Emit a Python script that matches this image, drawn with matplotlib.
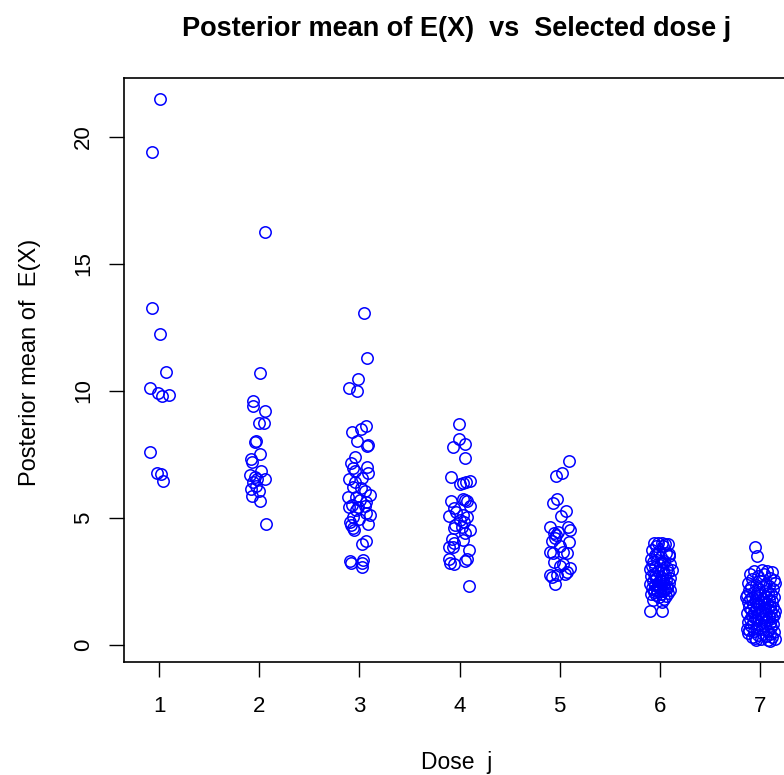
import numpy as np
import matplotlib
matplotlib.use('Agg')
import matplotlib.pyplot as plt

plt.rcParams['font.family'] = ['Liberation Sans', 'DejaVu Sans']

# 每个剂量: 横向抖动量 与 E(X) 后验均值
dose1_dx = [0.01, -0.07, -0.07, 0.01, 0.07, -0.09, -0.01, 0.03, 0.10, -0.09, -0.02, 0.02, 0.04]
dose1_y = [21.5, 19.4, 13.28, 12.26, 10.76, 10.11, 9.91, 9.79, 9.85, 7.60, 6.76, 6.73, 6.44]

dose2_dx = [0.06, 0.01, -0.06, -0.06, 0.06, 0.0, 0.05, -0.04, -0.03, 0.01, -0.08, -0.07,
            0.02, -0.09, -0.04, -0.02, 0.06, -0.06, -0.03, -0.08, 0.0, -0.07, 0.01, 0.07]
dose2_y = [16.26, 10.71, 9.62, 9.41, 9.21, 8.75, 8.75, 8.0, 8.04, 7.51, 7.31, 7.22,
           6.85, 6.69, 6.60, 6.52, 6.52, 6.43, 6.26, 6.14, 6.06, 5.87, 5.68, 4.75]

dose3_dx = [0.05, 0.08, -0.01, -0.10, -0.02, -0.07, 0.02, 0.07, -0.02, 0.08, 0.09, -0.04,
            -0.08, -0.06, -0.04, 0.08, 0.09, -0.10, 0.03, -0.04, -0.06, 0.02, 0.06, 0.11,
            -0.11, -0.03, 0.01, 0.07, -0.07, -0.10, -0.01, 0.06, -0.03, 0.07, 0.11, -0.06,
            -0.09, 0.0, 0.09, -0.08, -0.06, -0.05, 0.03, 0.07, -0.09, -0.08, 0.03, 0.04, 0.03]
dose3_y = [13.08, 11.30, 10.48, 10.11, 10.01, 8.37, 8.49, 8.62, 8.04, 7.83, 7.86, 7.39,
           7.15, 6.96, 6.86, 7.0, 6.76, 6.54, 6.56, 6.43, 6.21, 6.17, 6.07, 5.9,
           5.81, 5.84, 5.71, 5.64, 5.51, 5.42, 5.44, 5.47, 5.31, 5.18, 5.12, 5.03,
           4.85, 4.95, 4.76, 4.72, 4.59, 4.53, 3.98, 4.11, 3.30, 3.24, 3.22, 3.35, 3.08]

dose4_dx = [-0.01, -0.01, 0.05, -0.06, 0.05, -0.08, 0.0, 0.03, 0.06, 0.10, -0.08, 0.03,
            0.05, 0.07, 0.10, -0.05, -0.03, -0.10, 0.03, 0.07, 0.0, 0.04, -0.04, 0.02,
            0.10, -0.05, 0.05, 0.03, -0.07, -0.05, -0.10, -0.06, 0.09, -0.10, -0.09, -0.05,
            0.05, 0.07, 0.09]
dose4_y = [8.69, 8.10, 7.93, 7.78, 7.38, 6.60, 6.33, 6.37, 6.43, 6.47, 5.66, 5.74,
           5.71, 5.67, 5.47, 5.38, 5.25, 5.09, 5.12, 5.05, 4.92, 4.85, 4.72, 4.66,
           4.53, 4.59, 4.40, 4.13, 4.16, 4.03, 3.87, 3.87, 3.74, 3.37, 3.24, 3.19,
           3.31, 3.37, 2.32]

dose5_dx = [0.09, -0.04, 0.02, -0.03, -0.07, 0.06, 0.01, -0.10, 0.08, 0.10, -0.06, -0.04,
            -0.02, -0.05, -0.08, 0.09, 0.0, -0.10, -0.07, 0.03, 0.07, -0.06, 0.0, 0.03,
            0.10, -0.10, -0.08, -0.03, 0.05, 0.07, -0.05]
dose5_y = [7.24, 6.65, 6.76, 5.75, 5.60, 5.29, 5.08, 4.63, 4.63, 4.53, 4.40, 4.33,
           4.46, 4.20, 4.11, 4.07, 3.90, 3.67, 3.61, 3.67, 3.61, 3.28, 3.11, 3.19,
           3.02, 2.76, 2.69, 2.76, 2.80, 2.89, 2.40]

dose6_dx = [-0.06, -0.02, 0.02, 0.05, 0.08, -0.04, 0.03, -0.08, -0.01, 0.06, -0.05, 0.09,
            0.01, -0.09, -0.03, 0.04, -0.07, 0.10, 0.0, -0.05, 0.07, -0.10, 0.03, -0.02,
            0.08, -0.06, 0.05, -0.09, 0.01, 0.10, -0.04, 0.06, -0.07, 0.02, -0.01, 0.09,
            -0.10, 0.04, -0.05, 0.07, -0.02, 0.0, -0.08, 0.05, 0.10, -0.03, 0.03, -0.06,
            0.08, -0.09, 0.01, -0.04, 0.06, -0.01, 0.04, -0.07, 0.02, -0.10, 0.02, 0.09,
            -0.03, 0.02, -0.08, 0.12, -0.05, 0.03, -0.02, 0.07, -0.06, 0.0]
dose6_y = [4.02, 4.00, 4.01, 3.98, 3.99, 3.90, 3.88, 3.72, 3.70, 3.62, 3.55, 3.50,
           3.45, 3.40, 3.36, 3.32, 3.25, 3.20, 3.15, 3.08, 3.02, 2.98, 2.95, 2.90,
           2.86, 2.80, 2.76, 2.70, 2.68, 2.64, 2.60, 2.57, 2.52, 2.50, 2.46, 2.44,
           2.42, 2.40, 2.36, 2.33, 2.30, 2.27, 2.24, 2.22, 2.18, 2.15, 2.12, 2.08,
           2.05, 2.02, 2.00, 1.95, 1.92, 1.88, 1.82, 1.78, 1.70, 1.35, 1.34, 3.58,
           3.60, 3.28, 3.12, 2.94, 2.72, 2.58, 2.38, 2.26, 2.16, 2.55]

dose7_dx = [-0.05, -0.03, -0.06, 0.02, 0.07, 0.12, -0.10, 0.04, -0.02, 0.10, -0.08, 0.14,
            0.01, -0.12, 0.06, -0.04, 0.09, -0.09, 0.03, -0.01, 0.13, -0.11, 0.05, -0.06,
            0.08, -0.03, 0.11, -0.13, 0.0, 0.06, -0.08, 0.14, -0.02, 0.03, -0.10, 0.09,
            -0.05, 0.12, 0.01, -0.12, 0.07, -0.03, 0.04, -0.07, 0.10, -0.01, 0.13, -0.11,
            0.05, -0.04, 0.08, -0.09, 0.02, 0.11, -0.06, 0.0, -0.13, 0.06, -0.02, 0.14,
            -0.08, 0.03, 0.09, -0.05, 0.12, -0.10, 0.01, -0.03, 0.07, -0.12, 0.04, 0.10,
            -0.07, 0.13, -0.01, -0.09, 0.05, 0.11, -0.04, 0.02, -0.11, 0.08, -0.06, 0.14,
            -0.12, 0.03, 0.10, -0.02, 0.06, -0.08, 0.12, -0.05, 0.01, 0.08, -0.04, 0.10,
            0.15, -0.13, 0.15, -0.14, 0.15]
dose7_y = [3.84, 3.52, 2.92, 2.95, 2.93, 2.88, 2.80, 2.78, 2.72, 2.62, 2.58, 2.55,
           2.50, 2.45, 2.42, 2.38, 2.33, 2.30, 2.27, 2.22, 2.20, 2.16, 2.12, 2.10,
           2.06, 2.03, 2.00, 1.98, 1.95, 1.92, 1.90, 1.87, 1.85, 1.82, 1.80, 1.78,
           1.75, 1.72, 1.70, 1.68, 1.65, 1.62, 1.60, 1.58, 1.55, 1.52, 1.50, 1.48,
           1.46, 1.43, 1.40, 1.38, 1.35, 1.32, 1.30, 1.28, 1.25, 1.22, 1.20, 1.18,
           1.15, 1.12, 1.10, 1.08, 1.05, 1.02, 1.00, 0.97, 0.95, 0.92, 0.90, 0.87,
           0.85, 0.82, 0.80, 0.76, 0.74, 0.70, 0.68, 0.64, 0.60, 0.57, 0.54, 0.50,
           0.47, 0.45, 0.42, 0.38, 0.36, 0.33, 0.30, 0.27, 0.24, 0.20, 0.18, 0.17,
           0.25, 0.62, 1.35, 1.90, 2.45]

doses = [1, 2, 3, 4, 5, 6, 7]
all_dx = [dose1_dx, dose2_dx, dose3_dx, dose4_dx, dose5_dx, dose6_dx, dose7_dx]
all_y = [dose1_y, dose2_y, dose3_y, dose4_y, dose5_y, dose6_y, dose7_y]

fig = plt.figure(figsize=(7.84, 7.75), dpi=100)
ax = fig.add_axes([124 / 784, 113 / 775, 666 / 784, 584 / 775])

for d, dx, yv in zip(doses, all_dx, all_y):
    xs = d + np.array(dx)
    ax.plot(xs, yv, 'o', markerfacecolor='none', markeredgecolor='#0000FF',
            markersize=8.2, markeredgewidth=1.1, linestyle='none', clip_on=False)

ax.set_xlim(0.65, 7.30)
ax.set_ylim(-0.67, 22.32)
ax.set_xticks(doses)
ax.set_yticks([0, 5, 10, 15, 20])
ax.tick_params(axis='both', direction='out', length=10.5, width=1.0, labelsize=16,
               color='black')
ax.tick_params(axis='x', pad=14)
ax.tick_params(axis='y', pad=11, labelrotation=90)
for lab in ax.get_yticklabels():
    lab.set_va('center')
for sp in ax.spines.values():
    sp.set_linewidth(1.2)

cx = (124 + 790) / 2 / 784
fig.text(cx, 1 - 29 / 775, 'Posterior mean of E(X)  vs  Selected dose j',
         ha='center', va='center', fontsize=19.5, fontweight='bold')
fig.text(cx, 1 - 762 / 775, 'Dose  j', ha='center', va='center', fontsize=16.5)
fig.text(30 / 784, 1 - 362 / 775, 'Posterior mean of  E(X)', ha='center', va='center',
         rotation=90, fontsize=17)

fig.savefig('out.png', dpi=100)
